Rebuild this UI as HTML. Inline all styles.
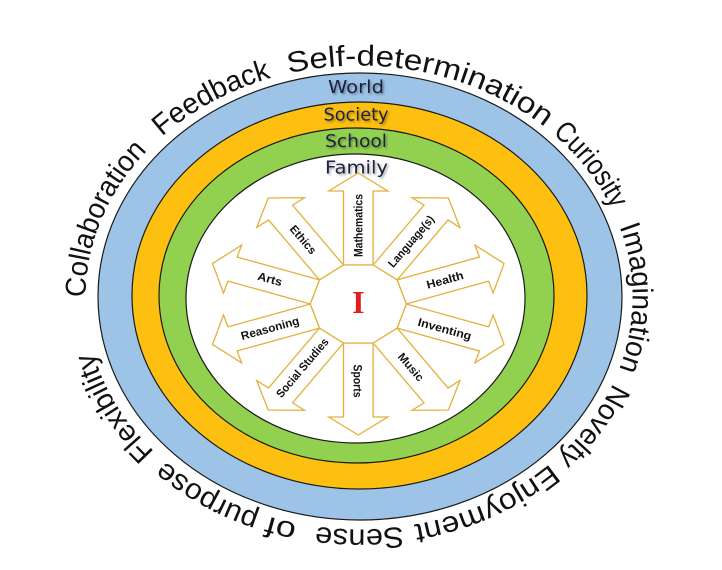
<!DOCTYPE html>
<html>
<head>
<meta charset="utf-8">
<style>
  html,body{margin:0;padding:0;background:#fff;overflow:hidden;}
  svg{display:block;}
  .outer{font-family:"Liberation Sans",Arial,sans-serif;font-size:29px;fill:#111;}
  .ring{font-family:"DejaVu Sans","Liberation Sans",sans-serif;font-size:18px;fill:#1d2240;}
  .lab{font-family:"Liberation Sans",Arial,sans-serif;font-size:11.5px;font-weight:bold;fill:#111;}
</style>
</head>
<body>
<svg width="722" height="570" viewBox="0 0 722 570" xmlns="http://www.w3.org/2000/svg">
  <defs>
    <path id="tp" d="M 87.5 325.8 A 273.5 232 0 0 1 630.5 269.2 A 273.5 232 0 0 1 87.5 325.8" fill="none"/>
    <filter id="sh" x="-20%" y="-60%" width="140%" height="220%">
      <feDropShadow dx="1.5" dy="1.5" stdDeviation="1" flood-color="#000" flood-opacity="0.35"/>
    </filter>
  </defs>

  <rect x="0" y="0" width="722" height="570" fill="#fff"/>

  <!-- rings -->
  <ellipse cx="360" cy="296.5" rx="262" ry="223.5" fill="#9dc3e6" stroke="#1a1a1a" stroke-width="1.2"/>
  <ellipse cx="359.5" cy="295.5" rx="227.5" ry="193.5" fill="#fdc010" stroke="#1a1a1a" stroke-width="1.2"/>
  <ellipse cx="356.5" cy="295.5" rx="197.5" ry="167.5" fill="#92d050" stroke="#1a1a1a" stroke-width="1.2"/>
  <ellipse cx="355.5" cy="298.5" rx="169.5" ry="144.5" fill="#ffffff" stroke="#1a1a1a" stroke-width="1.2"/>

  <!-- ring labels -->
  <g class="ring" text-anchor="middle" filter="url(#sh)">
    <text x="356" y="93" textLength="56" lengthAdjust="spacingAndGlyphs">World</text>
    <text x="356" y="120.5" textLength="65" lengthAdjust="spacingAndGlyphs">Society</text>
    <text x="356" y="147" textLength="62" lengthAdjust="spacingAndGlyphs">School</text>
    <text x="356.5" y="173.5" textLength="63" lengthAdjust="spacingAndGlyphs">Family</text>
  </g>

  <!-- arrows -->
  <g transform="translate(358.3 304) scale(1.17 1)" fill="#fff" stroke="#e2b13c" stroke-width="1.3" stroke-linejoin="miter">
    <g transform="rotate(-90)"><polygon vector-effect="non-scaling-stroke" points="39,-12.67 113,-12.67 113,-25.2 131,0 113,25.2 113,12.67 39,12.67"/></g>
    <g transform="rotate(-54)"><polygon vector-effect="non-scaling-stroke" points="39,-12.67 113,-12.67 113,-25.2 131,0 113,25.2 113,12.67 39,12.67"/></g>
    <g transform="rotate(-18)"><polygon vector-effect="non-scaling-stroke" points="39,-12.67 113,-12.67 113,-25.2 131,0 113,25.2 113,12.67 39,12.67"/></g>
    <g transform="rotate(18)"><polygon vector-effect="non-scaling-stroke" points="39,-12.67 113,-12.67 113,-25.2 131,0 113,25.2 113,12.67 39,12.67"/></g>
    <g transform="rotate(54)"><polygon vector-effect="non-scaling-stroke" points="39,-12.67 113,-12.67 113,-25.2 131,0 113,25.2 113,12.67 39,12.67"/></g>
    <g transform="rotate(90)"><polygon vector-effect="non-scaling-stroke" points="39,-12.67 113,-12.67 113,-25.2 131,0 113,25.2 113,12.67 39,12.67"/></g>
    <g transform="rotate(126)"><polygon vector-effect="non-scaling-stroke" points="39,-12.67 113,-12.67 113,-25.2 131,0 113,25.2 113,12.67 39,12.67"/></g>
    <g transform="rotate(162)"><polygon vector-effect="non-scaling-stroke" points="39,-12.67 113,-12.67 113,-25.2 131,0 113,25.2 113,12.67 39,12.67"/></g>
    <g transform="rotate(198)"><polygon vector-effect="non-scaling-stroke" points="39,-12.67 113,-12.67 113,-25.2 131,0 113,25.2 113,12.67 39,12.67"/></g>
    <g transform="rotate(234)"><polygon vector-effect="non-scaling-stroke" points="39,-12.67 113,-12.67 113,-25.2 131,0 113,25.2 113,12.67 39,12.67"/></g>
    <!-- decagon -->
    <polygon vector-effect="non-scaling-stroke" points="41,0 33.17,24.1 12.67,39 -12.67,39 -33.17,24.1 -41,0 -33.17,-24.1 -12.67,-39 12.67,-39 33.17,-24.1"/>
  </g>

  <!-- center I -->
  <text x="358.3" y="313" text-anchor="middle" font-family="'Liberation Serif','Times New Roman',serif" font-size="32" font-weight="bold" fill="#e21d1d">I</text>

  <!-- arrow labels -->
  <g class="lab" text-anchor="middle">
    <text transform="translate(358.3 225.5) rotate(-90)" y="4" textLength="63" lengthAdjust="spacingAndGlyphs">Mathematics</text>
    <text transform="translate(411 241.3) rotate(-49.6)" y="4" textLength="64" lengthAdjust="spacingAndGlyphs">Language(s)</text>
    <text transform="translate(445 280) rotate(-15.5)" y="4" textLength="38" lengthAdjust="spacingAndGlyphs">Health</text>
    <text transform="translate(444.7 329) rotate(15.5)" y="4" textLength="55" lengthAdjust="spacingAndGlyphs">Inventing</text>
    <text transform="translate(411 367) rotate(49.6)" y="4" textLength="33" lengthAdjust="spacingAndGlyphs">Music</text>
    <text transform="translate(357.5 381) rotate(90)" y="4" textLength="33" lengthAdjust="spacingAndGlyphs">Sports</text>
    <text transform="translate(302.3 367.7) rotate(-49.6)" y="4" textLength="74" lengthAdjust="spacingAndGlyphs">Social Studies</text>
    <text transform="translate(270 328.2) rotate(-15.5)" y="4" textLength="60" lengthAdjust="spacingAndGlyphs">Reasoning</text>
    <text transform="translate(270 279) rotate(15.5)" y="4" textLength="25" lengthAdjust="spacingAndGlyphs">Arts</text>
    <text transform="translate(303.2 239.6) rotate(49.6)" y="4" textLength="34" lengthAdjust="spacingAndGlyphs">Ethics</text>
  </g>

  <!-- outer circular text -->
  <g class="outer">
    <text><textPath href="#tp" startOffset="28.6" textLength="163" lengthAdjust="spacingAndGlyphs">Collaboration</textPath></text>
    <text><textPath href="#tp" startOffset="212" textLength="125" lengthAdjust="spacingAndGlyphs">Feedback</textPath></text>
    <text><textPath href="#tp" startOffset="355" textLength="270" lengthAdjust="spacingAndGlyphs">Self-determination</textPath></text>
    <text><textPath href="#tp" startOffset="635" textLength="97" lengthAdjust="spacingAndGlyphs">Curiosity</textPath></text>
    <text><textPath href="#tp" startOffset="751" textLength="146" lengthAdjust="spacingAndGlyphs">Imagination</textPath></text>
    <text><textPath href="#tp" startOffset="912" textLength="93" lengthAdjust="spacingAndGlyphs">Novelty</textPath></text>
    <text><textPath href="#tp" startOffset="1015" textLength="151" lengthAdjust="spacingAndGlyphs">Enjoyment</textPath></text>
    <text><textPath href="#tp" startOffset="1177" textLength="87" lengthAdjust="spacingAndGlyphs">Sense</textPath></text>
    <text><textPath href="#tp" startOffset="1283" textLength="30" lengthAdjust="spacingAndGlyphs">of</textPath></text>
    <text><textPath href="#tp" startOffset="1322" textLength="109" lengthAdjust="spacingAndGlyphs">purpose</textPath></text>
    <text><textPath href="#tp" startOffset="1445" textLength="118" lengthAdjust="spacingAndGlyphs">Flexibility</textPath></text>
  </g>
</svg>
</body>
</html>
